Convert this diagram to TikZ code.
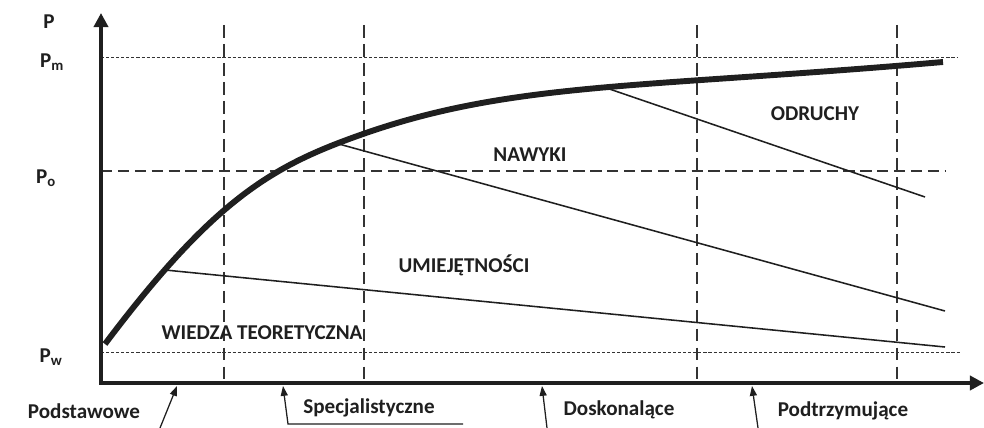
\documentclass[tikz,border=0pt]{standalone}
\usepackage{fontspec}
\setmainfont{Carlito}
\usetikzlibrary{arrows.meta, calc}

\begin{document}
\begin{tikzpicture}[
    x=0.025cm, y=-0.025cm,
    % axes of the chart
    axis/.style={
        line width=2.8pt,
        black!88,
        {Triangle[length=10pt,width=10pt]}-{Triangle[length=10pt,width=10pt]}
    },
    % learning curve
    curve/.style={
        line width=4.2pt,
        black!88
    },
    % borders between the areas
    border/.style={
        line width=1.1pt,
        black!88
    },
    % thin level lines (Pm, Pw)
    fineguide/.style={
        line width=0.6pt,
        black!80,
        dash pattern=on 2.2pt off 1.4pt
    },
    % level line Po
    levelguide/.style={
        line width=0.9pt,
        black!80,
        dash pattern=on 8pt off 4pt
    },
    % vertical phase lines
    phaseguide/.style={
        line width=0.9pt,
        black!80,
        dash pattern=on 9pt off 4.5pt
    },
    pointer/.style={
        line width=0.9pt,
        black!88,
        -{Triangle[length=7pt,width=5pt]}
    },
    ticklabel/.style={
        font=\fontsize{15}{17}\selectfont\bfseries,
        text=black!88
    },
    area/.style={
        font=\fontsize{15}{17}\selectfont\bfseries,
        text=black!88
    },
    stage/.style={
        font=\fontsize{15}{17}\selectfont\bfseries,
        text=black!88,
        inner sep=1pt
    }
]
\useasboundingbox (0,0) rectangle (984,427);

% === Axes ===
\coordinate (origin) at (101,383);
\coordinate (ytip) at (101,13);
\coordinate (xtip) at (984,383);

% === Level lines ===
\coordinate (pm-end) at (958,57);
\coordinate (po-end) at (945,171);
\coordinate (pw-end) at (960,352);
\draw[fineguide] (origin |- pm-end) -- (pm-end);
\draw[levelguide] (origin |- po-end) -- (po-end);
\draw[fineguide] (origin |- pw-end) -- (pw-end);

% === Phase lines ===
\foreach \x in {224,364,697,897}
    \draw[phaseguide] (\x,25) -- (\x,383);

\draw[axis] (ytip) -- (origin) -- (xtip);

% === Axis labels ===
\node[ticklabel] (p) at (49,22) {P};
\node[ticklabel] (pm) at (52,62) {P\textsubscript{m}};
\node[ticklabel] (po) at (46,178) {P\textsubscript{o}};
\node[ticklabel] (pw) at (51,357) {P\textsubscript{w}};

% === Curve ===
\coordinate (c-start) at (105,344);
\coordinate (c-mid) at (363,134);
\coordinate (c-end) at (943,62);
\draw[curve] (c-start) .. controls (215,198) and (273,165.5) .. (c-mid)
    .. controls (513,81.5) and (643,88.1) .. (c-end);

% === Borders ===
\coordinate (wiedza-start) at (165,270);
\coordinate (wiedza-end) at (945,347);
\coordinate (umiej-start) at (337,143.5);
\coordinate (umiej-end) at (945,311);
\coordinate (nawyki-start) at (605,87.5);
\coordinate (nawyki-end) at (925,197);
\draw[border] (wiedza-start) -- (wiedza-end);
\draw[border] (umiej-start) -- (umiej-end);
\draw[border] (nawyki-start) -- (nawyki-end);

% === Areas ===
\node[area] (wiedza) at (262,333) {WIEDZA TEORETYCZNA};
\node[area] (umiej) at (464,265) {UMIEJĘTNOŚCI};
\node[area] (nawyki) at (530,155) {NAWYKI};
\node[area] (odruchy) at (815,114) {ODRUCHY};

% === Stages ===
\node[stage] (podst) at (84,411) {Podstawowe};
\node[stage] (spec) at (369,408) {Specjalistyczne};
\node[stage] (dosk) at (619,410) {Doskonalące};
\node[stage] (podtrz) at (843,411) {Podtrzymujące};

\coordinate (podst-tail) at (160,428);
\coordinate (podst-tip) at (177,386);
\coordinate (spec-right) at (463,424);
\coordinate (spec-left) at (288,424);
\coordinate (spec-tip) at (283,386);
\coordinate (dosk-tail) at (547,428);
\coordinate (dosk-tip) at (542,386);
\coordinate (podtrz-tail) at (758,428);
\coordinate (podtrz-tip) at (752,386);

\draw[pointer] (podst-tail) -- (podst-tip);
\draw[pointer] (spec-right) -- (spec-left) -- (spec-tip);
\draw[pointer] (dosk-tail) -- (dosk-tip);
\draw[pointer] (podtrz-tail) -- (podtrz-tip);

\end{tikzpicture}
\end{document}
